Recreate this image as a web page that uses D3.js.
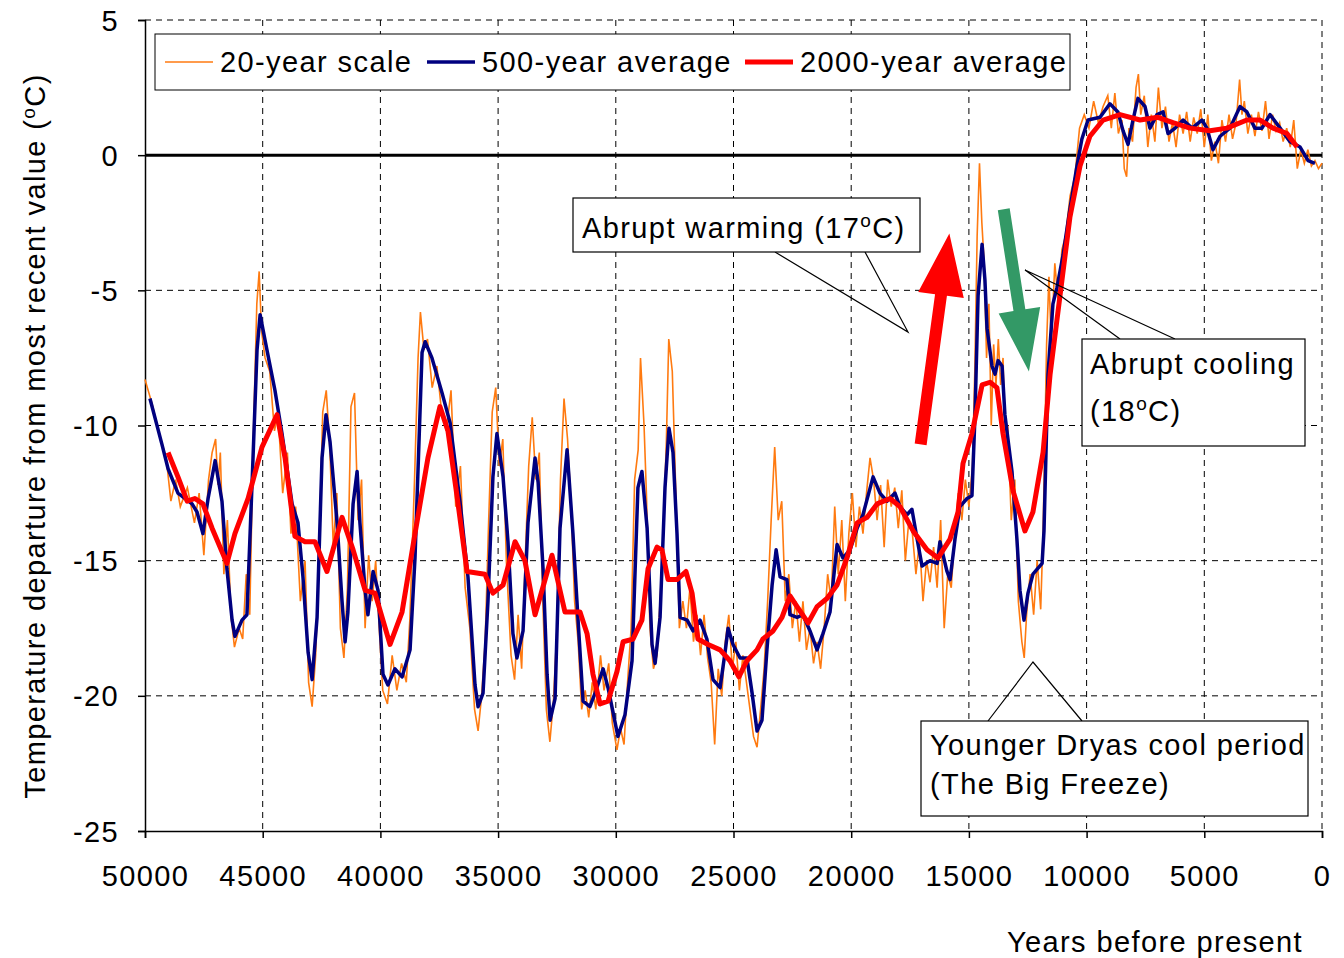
<!DOCTYPE html>
<html><head><meta charset="utf-8">
<script src="https://cdn.jsdelivr.net/npm/d3@7"></script>
<style>
body{margin:0;background:#fff;}
text{font-family:"Liberation Sans",Arial,sans-serif;fill:#000;letter-spacing:1.4px;}
</style></head>
<body><svg id="chart" width="1344" height="958"></svg>
<script>
// 20-year scale [years before present, temp]
var series20 = [[50000,-8.3],[49700,-9.2],[49400,-10.3],[49100,-11.2],[48900,-12.8],[48700,-12.0],[48500,-13.0],[48200,-12.3],[47900,-13.6],[47700,-12.5],[47500,-14.8],[47300,-12.0],[47150,-11.0],[47000,-10.5],[46900,-12.2],[46800,-11.0],[46650,-15.5],[46500,-13.5],[46350,-17.0],[46200,-18.2],[46000,-17.5],[45850,-17.9],[45700,-15.5],[45550,-17.0],[45400,-10.5],[45250,-5.5],[45150,-4.3],[45050,-6.5],[44900,-7.5],[44700,-8.0],[44500,-10.2],[44350,-9.5],[44150,-12.5],[43950,-11.0],[43800,-14.0],[43600,-13.0],[43400,-16.5],[43200,-15.0],[43050,-19.5],[42900,-20.4],[42750,-18.5],[42600,-14.5],[42450,-9.5],[42300,-8.7],[42150,-10.8],[42000,-14.5],[41850,-12.5],[41700,-17.5],[41550,-18.6],[41400,-16.0],[41250,-9.3],[41100,-8.8],[40950,-13.5],[40800,-12.0],[40650,-17.5],[40500,-14.8],[40350,-16.5],[40200,-15.0],[40050,-17.5],[39900,-19.8],[39700,-20.3],[39500,-18.5],[39300,-19.8],[39100,-18.8],[38900,-19.5],[38750,-17.2],[38550,-12.0],[38400,-7.5],[38300,-5.8],[38150,-7.2],[38000,-6.8],[37800,-8.6],[37600,-7.8],[37400,-9.5],[37200,-10.2],[37000,-8.7],[36800,-13.0],[36600,-11.5],[36400,-16.0],[36200,-17.5],[36000,-20.5],[35850,-21.3],[35700,-20.0],[35550,-18.0],[35400,-13.5],[35250,-9.5],[35100,-8.6],[34950,-11.5],[34800,-10.5],[34650,-15.0],[34450,-18.5],[34300,-19.4],[34150,-17.0],[34000,-19.0],[33850,-15.0],[33700,-11.5],[33550,-9.7],[33400,-12.0],[33250,-11.0],[33100,-16.5],[32950,-20.5],[32800,-21.7],[32650,-20.2],[32500,-17.5],[32350,-12.0],[32200,-9.0],[32050,-10.5],[31900,-13.0],[31750,-16.5],[31600,-18.0],[31450,-20.5],[31300,-19.8],[31150,-20.8],[31000,-19.5],[30850,-20.5],[30650,-18.5],[30500,-19.8],[30300,-18.8],[30150,-21.0],[29950,-22.0],[29800,-21.2],[29650,-21.8],[29500,-19.5],[29350,-17.5],[29200,-12.0],[29050,-10.9],[28950,-7.5],[28800,-10.0],[28700,-12.5],[28550,-17.5],[28400,-19.0],[28250,-18.5],[28150,-17.0],[28000,-14.5],[27850,-10.5],[27750,-6.8],[27600,-8.0],[27450,-12.5],[27300,-17.5],[27150,-16.5],[27000,-17.5],[26850,-16.0],[26700,-18.0],[26550,-17.0],[26400,-18.5],[26250,-17.0],[26100,-18.6],[25950,-19.5],[25800,-21.8],[25650,-19.0],[25500,-20.0],[25350,-18.0],[25200,-17.0],[25050,-19.0],[24900,-18.0],[24750,-19.8],[24600,-18.5],[24450,-19.5],[24300,-20.5],[24150,-21.5],[24000,-21.9],[23850,-20.5],[23700,-19.0],[23550,-16.5],[23400,-13.5],[23250,-10.8],[23100,-13.5],[22950,-12.8],[22800,-16.5],[22650,-15.5],[22500,-17.5],[22350,-16.5],[22200,-18.0],[22050,-16.5],[21900,-18.3],[21750,-17.5],[21600,-18.8],[21450,-18.0],[21300,-19.0],[21150,-17.5],[21000,-15.5],[20850,-16.5],[20700,-13.0],[20550,-15.5],[20400,-13.5],[20250,-16.5],[20100,-14.0],[19950,-12.5],[19800,-14.5],[19650,-13.0],[19500,-14.0],[19350,-12.5],[19200,-11.2],[19050,-12.0],[18900,-13.5],[18750,-12.2],[18600,-14.5],[18450,-12.0],[18300,-13.0],[18150,-12.3],[18000,-13.8],[17850,-12.4],[17700,-15.0],[17550,-13.5],[17400,-14.0],[17250,-15.5],[17100,-14.3],[16950,-16.5],[16800,-15.0],[16650,-15.8],[16500,-14.5],[16350,-16.0],[16200,-13.5],[16050,-17.5],[15900,-15.5],[15750,-16.0],[15600,-14.0],[15450,-12.5],[15300,-13.5],[15150,-12.0],[15000,-13.0],[14850,-11.5],[14750,-8.0],[14650,-3.0],[14550,-0.3],[14450,-2.5],[14350,-4.0],[14250,-7.5],[14150,-5.5],[14050,-10.0],[13950,-7.0],[13850,-8.5],[13750,-6.8],[13650,-8.5],[13550,-7.5],[13450,-11.0],[13350,-10.0],[13200,-13.5],[13050,-12.0],[12900,-16.5],[12750,-18.0],[12650,-18.6],[12550,-17.0],[12400,-15.5],[12250,-17.0],[12100,-15.0],[11950,-16.8],[11850,-14.0],[11700,-7.0],[11600,-4.5],[11500,-7.0],[11350,-4.0],[11200,-5.5],[11050,-3.5],[10900,-3.0],[10700,-1.5],[10500,-0.8],[10300,1.0],[10100,1.5],[9900,1.0],[9700,2.0],[9500,1.2],[9300,1.8],[9100,2.2],[8950,1.0],[8800,2.3],[8650,0.8],[8500,1.3],[8400,-0.5],[8300,-0.8],[8200,1.0],[8050,0.5],[7900,2.5],[7800,3.0],[7700,1.5],[7550,2.2],[7400,0.3],[7250,1.5],[7100,0.5],[6950,2.5],[6800,1.0],[6650,1.8],[6500,0.5],[6350,1.2],[6200,0.3],[6050,1.5],[5900,0.8],[5750,1.6],[5600,0.5],[5450,1.4],[5300,0.8],[5150,1.7],[5000,0.3],[4850,1.5],[4700,-0.2],[4550,0.5],[4400,-0.3],[4250,1.3],[4100,0.5],[3950,1.5],[3800,0.6],[3650,1.2],[3500,2.8],[3400,1.5],[3300,2.0],[3150,0.8],[3000,1.5],[2850,0.7],[2700,1.6],[2550,0.9],[2400,2.0],[2250,0.6],[2100,1.5],[1950,0.9],[1800,1.2],[1650,0.5],[1500,1.0],[1350,0.3],[1200,1.3],[1050,-0.5],[900,0.2],[750,-0.3],[600,0.2],[450,-0.4],[300,-0.2],[150,-0.5],[0,-0.3]];

// 500-year average
var series500 = [[49790,-9.0],[49280,-10.7],[49020,-11.6],[48600,-12.5],[48000,-12.9],[47790,-13.2],[47540,-14.0],[47320,-12.7],[47020,-11.3],[46730,-12.8],[46520,-15.3],[46300,-17.2],[46180,-17.8],[45880,-17.2],[45670,-17.0],[45450,-12.1],[45240,-7.2],[45110,-5.9],[44820,-7.2],[44480,-8.7],[44180,-10.3],[43750,-12.9],[43500,-13.6],[43290,-15.6],[43070,-18.4],[42900,-19.4],[42690,-17.1],[42480,-11.2],[42310,-9.6],[42140,-10.6],[41840,-13.6],[41630,-16.5],[41500,-18.0],[41380,-16.9],[41160,-12.9],[40990,-11.7],[40870,-13.6],[40650,-16.1],[40530,-17.0],[40310,-15.4],[40100,-16.1],[39890,-19.2],[39680,-19.6],[39380,-19.0],[39080,-19.3],[38740,-18.3],[38530,-14.9],[38230,-7.3],[38100,-6.9],[37810,-7.5],[37380,-8.8],[37040,-9.9],[36620,-12.8],[36280,-15.6],[35980,-19.6],[35850,-20.4],[35640,-19.9],[35430,-16.5],[35220,-11.9],[35050,-10.3],[34790,-11.9],[34580,-14.3],[34370,-17.7],[34200,-18.6],[33940,-17.6],[33730,-13.6],[33430,-11.2],[33300,-12.1],[33090,-15.3],[32920,-19.2],[32790,-20.9],[32580,-20.1],[32370,-13.8],[32070,-10.9],[31820,-14.0],[31610,-17.1],[31390,-20.2],[31100,-20.4],[30880,-19.9],[30540,-19.0],[30330,-19.7],[29910,-21.5],[29610,-20.7],[29310,-18.7],[29060,-12.3],[28890,-11.7],[28670,-13.8],[28460,-18.1],[28330,-18.8],[28120,-17.1],[27910,-12.3],[27740,-10.1],[27570,-11.0],[27400,-14.0],[27270,-17.1],[26970,-17.2],[26720,-17.6],[26420,-17.2],[26130,-17.9],[25870,-19.4],[25570,-19.7],[25360,-18.4],[25230,-17.5],[25020,-18.1],[24720,-18.6],[24430,-18.6],[24210,-19.9],[24000,-21.3],[23790,-20.9],[23580,-18.3],[23360,-15.9],[23190,-14.6],[23020,-15.6],[22730,-15.7],[22600,-17.0],[22300,-17.1],[22050,-17.0],[21750,-17.6],[21450,-18.3],[21200,-17.7],[20900,-16.9],[20600,-14.4],[20350,-14.9],[20050,-14.6],[19750,-13.8],[19500,-13.3],[19070,-11.9],[18780,-12.5],[18480,-12.8],[18140,-12.5],[17930,-13.0],[17630,-13.3],[17420,-13.1],[17200,-14.2],[16990,-15.2],[16650,-15.0],[16350,-15.1],[16230,-14.3],[15930,-15.4],[15800,-15.7],[15590,-14.2],[15380,-13.0],[15080,-12.7],[14870,-12.6],[14740,-9.6],[14610,-5.2],[14440,-3.3],[14320,-4.6],[14230,-6.4],[14020,-7.8],[13890,-8.1],[13760,-7.6],[13590,-7.8],[13470,-9.6],[13170,-11.7],[12960,-14.2],[12830,-16.1],[12660,-17.2],[12490,-16.2],[12280,-15.5],[11890,-15.1],[11810,-13.9],[11640,-8.1],[11430,-5.5],[11260,-4.9],[11000,-3.7],[10710,-2.0],[10410,-0.4],[10200,0.6],[9940,1.3],[9430,1.4],[9010,1.9],[8670,1.6],[8450,0.9],[8240,0.4],[8030,1.3],[7820,2.1],[7520,1.8],[7310,1.0],[7010,1.5],[6750,1.6],[6540,0.8],[6240,1.0],[5900,1.3],[5520,1.0],[5100,1.3],[4890,1.0],[4630,0.2],[4330,0.7],[3910,1.0],[3480,1.8],[3190,1.6],[2850,1.0],[2550,1.0],[2210,1.5],[1780,1.0],[1360,0.5],[930,0.3],[590,-0.2],[300,-0.3]];

// 2000-year average
var series2000 = [[49020,-11.0],[48600,-11.9],[48210,-12.8],[47880,-12.7],[47540,-12.9],[47150,-13.8],[46520,-15.1],[46180,-14.0],[45620,-12.7],[45030,-10.8],[44390,-9.6],[44050,-11.2],[43630,-14.1],[43200,-14.3],[42780,-14.3],[42270,-15.4],[41630,-13.4],[41160,-14.6],[40650,-16.1],[40230,-16.2],[39590,-18.1],[39080,-16.9],[38530,-14.0],[37980,-11.2],[37470,-9.3],[37130,-10.2],[36700,-12.9],[36320,-15.4],[35560,-15.5],[35220,-16.2],[34790,-15.9],[34280,-14.3],[33860,-15.0],[33430,-17.0],[32710,-14.8],[32160,-16.9],[31520,-16.9],[31220,-17.7],[30970,-19.2],[30670,-20.3],[30330,-20.2],[29950,-19.1],[29690,-18.0],[29270,-17.9],[28890,-17.2],[28630,-15.3],[28250,-14.5],[28040,-14.6],[27780,-15.7],[27400,-15.7],[27020,-15.4],[26760,-16.2],[26510,-17.9],[26080,-18.1],[25570,-18.3],[25150,-18.7],[24770,-19.3],[24430,-18.7],[24000,-18.3],[23750,-17.9],[23320,-17.6],[22940,-17.1],[22600,-16.3],[22300,-16.7],[21830,-17.3],[21450,-16.7],[21030,-16.4],[20600,-15.9],[20180,-14.9],[19750,-13.6],[19330,-13.4],[18900,-12.9],[18350,-12.7],[17930,-13.0],[17370,-13.9],[16780,-14.6],[16310,-14.9],[15800,-14.2],[15460,-13.2],[15250,-11.4],[14870,-10.3],[14440,-8.5],[14100,-8.4],[13810,-8.6],[13550,-10.3],[13130,-12.4],[12620,-13.9],[12280,-13.2],[11850,-11.0],[11550,-8.1],[11130,-5.2],[10710,-2.3],[10280,-0.4],[9860,0.7],[9300,1.3],[8580,1.5],[7730,1.3],[6970,1.4],[6330,1.2],[5610,1.0],[4760,0.9],[4040,1.0],[3190,1.3],[2630,1.3],[2080,1.0],[1490,0.8],[1060,0.3]];

var xTicks = [50000,45000,40000,35000,30000,25000,20000,15000,10000,5000,0];
var yTicks = [5,0,-5,-10,-15,-20,-25];

var svg = d3.select("#chart");
var x = d3.scaleLinear().domain([50000,0]).range([145,1322]);
var y = d3.scaleLinear().domain([5,-25]).range([20,831]);

// grid
svg.selectAll(".hg").data(yTicks.filter(function(d){return d!==0 && d!==-25;})).enter()
  .append("line").attr("x1",145).attr("x2",1322).attr("y1",y).attr("y2",y)
  .attr("stroke","#000").attr("stroke-width",1).attr("stroke-dasharray","6,5");
svg.selectAll(".vg").data(xTicks.filter(function(d){return d!==50000;})).enter()
  .append("line").attr("x1",x).attr("x2",x).attr("y1",20).attr("y2",831)
  .attr("stroke","#000").attr("stroke-width",1).attr("stroke-dasharray","6,5");

// axes
var yAxis = d3.axisLeft(y).tickValues(yTicks).tickSize(7).tickFormat(function(d){return String(d);});
var gy = svg.append("g").attr("transform","translate(145,0)").call(yAxis);
gy.selectAll("text").attr("font-size",29).attr("x",-26).attr("dy","0.35em");
var xAxis = d3.axisBottom(x).tickValues(xTicks).tickSize(7).tickFormat(function(d){return String(d);});
var gx = svg.append("g").attr("transform","translate(0,831)").call(xAxis);
gx.selectAll("text").attr("font-size",29).attr("y",34);
svg.selectAll(".domain").attr("stroke","#000").attr("stroke-width",1.5);
svg.selectAll(".tick line").attr("stroke","#000").attr("stroke-width",1.5);
svg.selectAll(".tick text").style("font-family","'Liberation Sans',Arial,sans-serif").attr("fill","#000");

// zero line
svg.append("line").attr("x1",145).attr("x2",1322).attr("y1",y(0)).attr("y2",y(0))
  .attr("stroke","#000").attr("stroke-width",3);

var line = d3.line().x(function(d){return x(d[0]);}).y(function(d){return y(d[1]);});
svg.append("path").datum(series20).attr("d",line).attr("fill","none").attr("stroke","#ff7a10").attr("stroke-width",1.6);
svg.append("path").datum(series500).attr("d",line).attr("fill","none").attr("stroke","#00007f").attr("stroke-width",3.5).attr("stroke-linejoin","round");
svg.append("path").datum(series2000).attr("d",line).attr("fill","none").attr("stroke","#ff0000").attr("stroke-width",5).attr("stroke-linejoin","round");

// axis titles
svg.append("text").attr("transform","translate(45,436) rotate(-90)").attr("text-anchor","middle").attr("font-size",29)
  .html('Temperature departure from most recent value (<tspan dy="-10" font-size="19">o</tspan><tspan dy="10">C)</tspan>');
svg.append("text").attr("x",1155).attr("y",952).attr("text-anchor","middle").attr("font-size",29).text("Years before present");

// legend
var legend = svg.append("g");
legend.append("rect").attr("x",155).attr("y",34).attr("width",915).attr("height",56).attr("fill","#fff").attr("stroke","#000").attr("stroke-width",1);
var legItems = [["20-year scale","#ff7a10",1.6,165],["500-year average","#00007f",3.5,427],["2000-year average","#ff0000",5,745]];
legItems.forEach(function(it){
  legend.append("line").attr("x1",it[3]).attr("x2",it[3]+48).attr("y1",62).attr("y2",62).attr("stroke",it[1]).attr("stroke-width",it[2]);
  legend.append("text").attr("x",it[3]+55).attr("y",72).attr("font-size",29).text(it[0]);
});

// arrows
function arrow(x0,y0,x1,y1,w,hw,hl,color){
  var dx=x1-x0, dy=y1-y0, L=Math.sqrt(dx*dx+dy*dy), ux=dx/L, uy=dy/L, px=-uy, py=ux;
  var bx=x1-ux*hl, by=y1-uy*hl;
  var pts=[[x0+px*w/2,y0+py*w/2],[bx+px*w/2,by+py*w/2],[bx+px*hw/2,by+py*hw/2],[x1,y1],
    [bx-px*hw/2,by-py*hw/2],[bx-px*w/2,by-py*w/2],[x0-px*w/2,y0-py*w/2]];
  svg.append("polygon").attr("points",pts.map(function(p){return p.join(",");}).join(" ")).attr("fill",color);
}
arrow(x(17050),y(-10.7),x(15830),y(-2.9),12,46,62,"#ff0000");
arrow(x(13520),y(-2.0),x(12450),y(-8.0),12,42,62,"#339966");

// callouts
function callout(pts){
  svg.append("polyline").attr("points",pts.map(function(p){return p.join(",");}).join(" ")).attr("fill","none").attr("stroke","#000").attr("stroke-width",1.2);
}
callout([[775,252],[908,332],[865,252]]);
svg.append("rect").attr("x",573).attr("y",198).attr("width",347).attr("height",54).attr("fill","#fff").attr("stroke","#000").attr("stroke-width",1.2);
svg.append("text").attr("x",582).attr("y",238).attr("font-size",29)
  .html('Abrupt warming (17<tspan dy="-11" font-size="19">o</tspan><tspan dy="11">C)</tspan>');

callout([[1120,339],[1025,270],[1175,339]]);
svg.append("rect").attr("x",1082).attr("y",339).attr("width",223).attr("height",107).attr("fill","#fff").attr("stroke","#000").attr("stroke-width",1.2);
svg.append("text").attr("x",1090).attr("y",374).attr("font-size",29).text("Abrupt cooling");
svg.append("text").attr("x",1090).attr("y",421).attr("font-size",29)
  .html('(18<tspan dy="-11" font-size="19">o</tspan><tspan dy="11">C)</tspan>');

callout([[988,721],[1033,662],[1082,721]]);
svg.append("rect").attr("x",921).attr("y",721).attr("width",387).attr("height",95).attr("fill","#fff").attr("stroke","#000").attr("stroke-width",1.2);
svg.append("text").attr("x",930).attr("y",755).attr("font-size",29).text("Younger Dryas cool period");
svg.append("text").attr("x",930).attr("y",794).attr("font-size",29).text("(The Big Freeze)");
</script></body></html>
